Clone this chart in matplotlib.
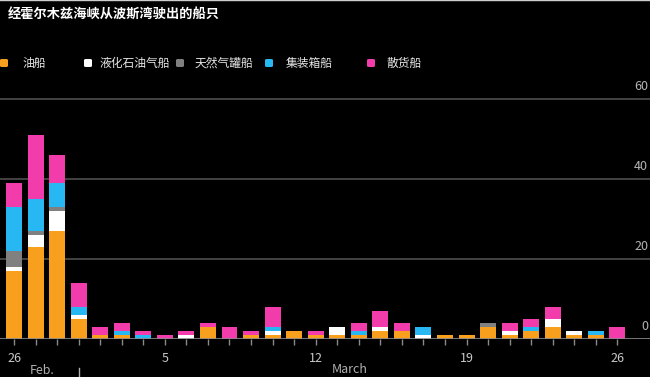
import numpy as np
import matplotlib.pyplot as plt
from matplotlib.patches import FancyBboxPatch
from matplotlib.lines import Line2D
from matplotlib.transforms import blended_transform_factory

plt.rcParams['font.family'] = ['Noto Sans CJK SC', 'DejaVu Sans']

# days: Feb 26 .. Mar 26
days = [26, 27, 28] + list(range(1, 27))
tick_days = {0: "26", 7: "5", 14: "12", 21: "19", 28: "26"}

names = ["油船", "液化石油气船", "天然气罐船", "集装箱船", "散货船"]
colors = ["#F99F1E", "#FFFFFF", "#808080", "#27B7F3", "#F23CAB"]

oil = [17, 23, 27, 5, 1, 1, 0, 0, 0, 3, 0, 1, 1, 2, 1, 1, 1, 2, 2, 0, 1, 1, 3, 1, 2, 3, 1, 1, 0]
lpg = [1, 3, 5, 1, 0, 0, 0, 0, 1, 0, 0, 0, 1, 0, 0, 2, 0, 1, 0, 1, 0, 0, 0, 1, 0, 2, 1, 0, 0]
lng = [4, 1, 1, 0, 0, 0, 0, 0, 0, 0, 0, 0, 0, 0, 0, 0, 0, 0, 0, 0, 0, 0, 1, 0, 0, 0, 0, 0, 0]
container = [11, 8, 6, 2, 0, 1, 1, 0, 0, 0, 0, 0, 1, 0, 0, 0, 1, 0, 0, 2, 0, 0, 0, 0, 1, 0, 0, 1, 0]
bulk = [6, 16, 7, 6, 2, 2, 1, 1, 1, 1, 3, 1, 5, 0, 1, 0, 2, 4, 2, 0, 0, 0, 0, 2, 2, 3, 0, 0, 3]

series = [oil, lpg, lng, container, bulk]

fig = plt.figure(figsize=(6.5, 3.77), dpi=100, facecolor="black")
ax = fig.add_axes([0, (377 - 339) / 377, 1, 244 / 377], facecolor="black")

x = np.arange(len(days))
bottom = np.zeros(len(days))
for vals, c in zip(series, colors):
    ax.bar(x, vals, bottom=bottom, width=0.74, color=c, linewidth=0, zorder=3)
    bottom += np.array(vals)

ax.set_xlim(-14 / 21.55, (650 - 14) / 21.55)
ax.set_ylim(0, 61)

for v in [20, 40, 60]:
    ax.axhline(v, color="#4d4d4d", lw=1.2, zorder=1)
ax.axhline(0, color="#8a8a8a", lw=1.2, zorder=4)

for v in [0, 20, 40, 60]:
    ax.annotate(str(v), xy=(0.997, v), xycoords=("axes fraction", "data"),
                xytext=(0, 4), textcoords="offset points",
                ha="right", va="bottom", color="#b5b5b5", fontsize=9)

for s in ax.spines.values():
    s.set_visible(False)
ax.set_yticks([])
ax.set_xticks(x)
ax.set_xticklabels([tick_days.get(i, "") for i in x])
ax.tick_params(axis="x", colors="#8a8a8a", length=4, width=1, pad=5,
               labelcolor="#c8c8c8", labelsize=9)

# month labels
ax.annotate("Feb.", xy=(1.3, 0), xycoords=("data", "axes fraction"),
            xytext=(0, -23), textcoords="offset points",
            ha="center", va="center", color="#b0b0b0", fontsize=9)
ax.annotate("March", xy=(15.6, 0), xycoords=("data", "axes fraction"),
            xytext=(0, -22), textcoords="offset points",
            ha="center", va="center", color="#b0b0b0", fontsize=9)
trans = blended_transform_factory(ax.transData, ax.transAxes)
ax.plot([3, 3], [-29 / 244, -37 / 244], transform=trans, color="#b0b0b0",
        lw=1, clip_on=False)

# title
fig.text(8 / 650, 1 - 15 / 377, "经霍尔木兹海峡从波斯湾驶出的船只",
         color="white", fontsize=9.5, fontweight="bold", va="center", ha="left")

# legend
marker_x = [0, 84, 176, 265, 367]
text_x = [22, 100, 195, 286, 387]
ly = 63
for mx, tx, name, c in zip(marker_x, text_x, names, colors):
    fig.add_artist(FancyBboxPatch((mx / 650, 1 - (ly + 4) / 377), 8 / 650, 8 / 377,
                                  boxstyle="round,pad=0,rounding_size=0.003",
                                  transform=fig.transFigure, color=c, lw=0))
    fig.text(tx / 650, 1 - ly / 377, name, color="#e6e6e6", fontsize=8.5,
             va="center", ha="left")

# thin frame line at top of screenshot
fig.add_artist(Line2D([0, 1], [0.999, 0.999], transform=fig.transFigure,
                      color="#cfcfcf", lw=1))

fig.savefig("out.png", dpi=100, facecolor="black")
